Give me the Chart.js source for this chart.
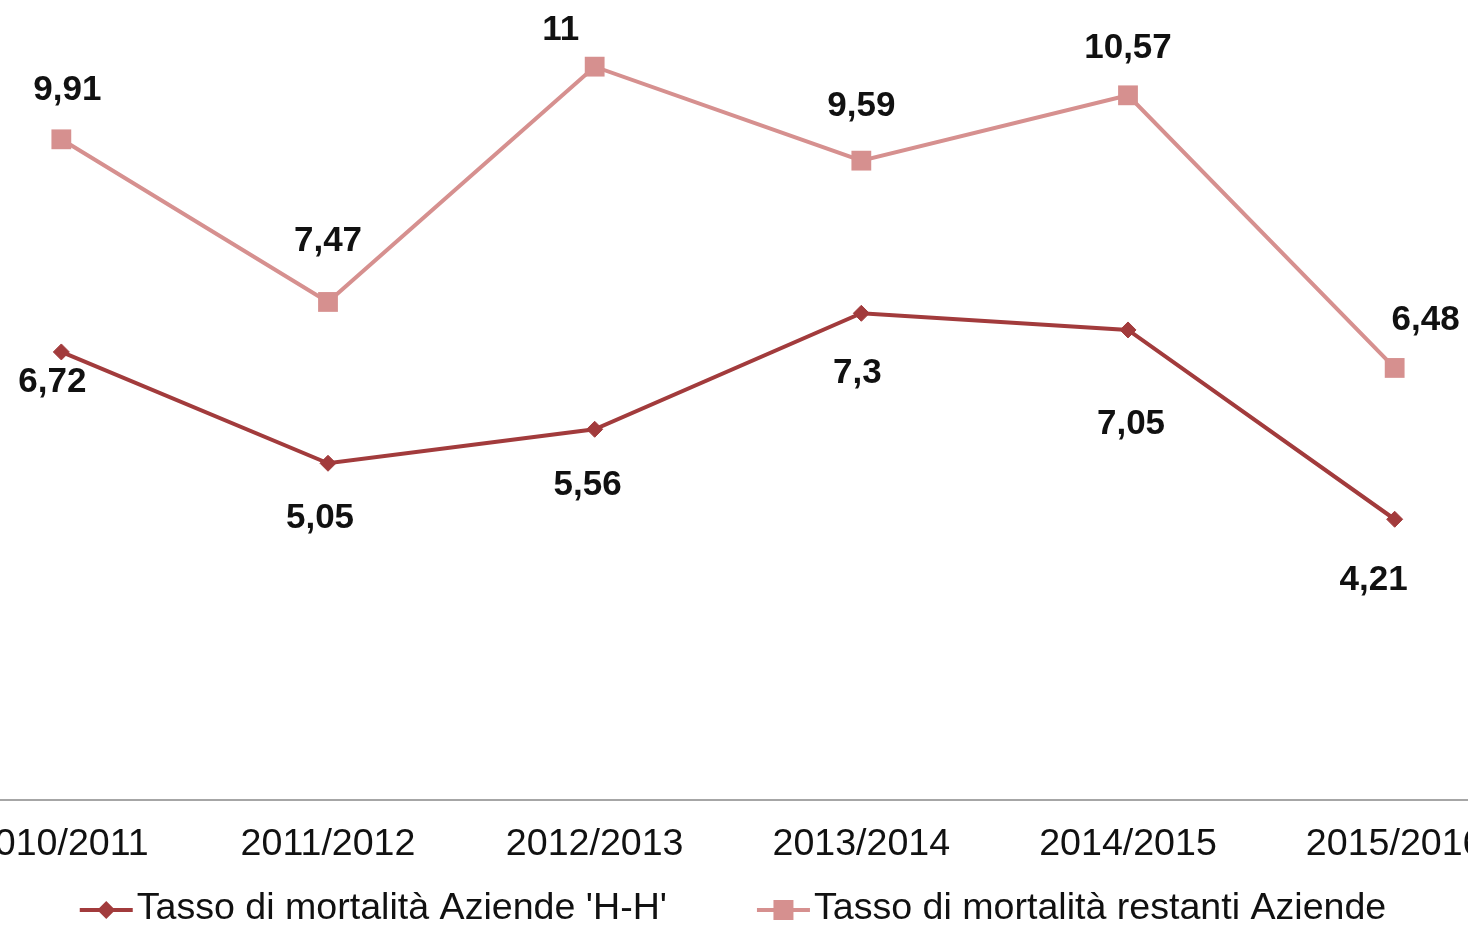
<!DOCTYPE html>
<html>
<head>
<meta charset="utf-8">
<title>Tasso di mortalità</title>
<script src="https://cdn.jsdelivr.net/npm/chart.js@4.4.1/dist/chart.umd.min.js"></script>
<style>
  html, body { margin: 0; padding: 0; background: #fff; overflow: hidden; width: 1468px; height: 925px; }
  #wrap { position: absolute; left: -72px; top: 0; width: 1600px; height: 925px; }
</style>
</head>
<body>
<div id="wrap"><canvas id="chart" width="1600" height="925"></canvas></div>
<script>
var seasons = ['2010/2011', '2011/2012', '2012/2013', '2013/2014', '2014/2015', '2015/2016'];
var tassoHH = [6.72, 5.05, 5.56, 7.3, 7.05, 4.21];
var tassoRestanti = [9.91, 7.47, 11, 9.59, 10.57, 6.48];

// where each value label sits relative to its point (px)
var nudgeHH = [[-9, 30], [-8, 55], [-7, 56], [-4, 60], [3, 94], [-21, 61]];
var nudgeRestanti = [[6, -49], [0, -61], [-34, -36], [0, -54], [0, -47], [31, -48]];

var FONT = '"Liberation Sans", Arial, sans-serif';
var darkRed = '#A23B3C';
var pink = '#D6908F';

function marker(ctx, style, x, y, r) {
    ctx.beginPath();
    if (style === 'rectRot') {
        ctx.moveTo(x - r, y);
        ctx.lineTo(x, y - r);
        ctx.lineTo(x + r, y);
        ctx.lineTo(x, y + r);
        ctx.closePath();
    } else {
        ctx.rect(x - r, y - r, 2 * r, 2 * r);
    }
    ctx.fill();
}

var valueLabels = {
    id: 'valueLabels',
    afterDatasetsDraw: function (chart) {
        var ctx = chart.ctx;
        ctx.save();
        ctx.font = 'bold 35px ' + FONT;
        ctx.fillStyle = '#111';
        ctx.textAlign = 'center';
        ctx.textBaseline = 'middle';
        chart.data.datasets.forEach(function (ds, di) {
            var meta = chart.getDatasetMeta(di);
            meta.data.forEach(function (pt, i) {
                var n = ds.nudge[i];
                var txt = String(ds.data[i]).replace('.', ',');
                ctx.fillText(txt, pt.x + n[0], pt.y + n[1]);
            });
        });
        ctx.restore();
    }
};

var bottomLegend = {
    id: 'bottomLegend',
    afterDraw: function (chart) {
        var ctx = chart.ctx;
        var lineLen = 53, gapText = 4, gapItems = 90;
        var y = 909;
        ctx.save();
        ctx.font = '37.6px ' + FONT;
        var items = chart.data.datasets.map(function (ds) {
            return { ds: ds, w: ctx.measureText(ds.label).width };
        });
        var total = gapItems * (items.length - 1);
        items.forEach(function (it) { total += lineLen + gapText + it.w; });
        var x = chart.width / 2 - total / 2 + 5;
        items.forEach(function (it) {
            var ds = it.ds;
            ctx.strokeStyle = ds.borderColor;
            ctx.lineWidth = 4;
            ctx.beginPath();
            ctx.moveTo(x, y + 1);
            ctx.lineTo(x + lineLen, y + 1);
            ctx.stroke();
            ctx.fillStyle = ds.pointBackgroundColor;
            marker(ctx, ds.pointStyle, x + lineLen / 2, y + 1, ds.pointStyle === 'rectRot' ? 9 : 10);
            ctx.fillStyle = '#111';
            ctx.textAlign = 'left';
            ctx.textBaseline = 'middle';
            ctx.fillText(ds.label, x + lineLen + gapText, y);
            x += lineLen + gapText + it.w + gapItems;
        });
        ctx.restore();
    }
};

new Chart(document.getElementById('chart'), {
    type: 'line',
    data: {
        labels: seasons,
        datasets: [
            {
                label: "Tasso di mortalità Aziende 'H-H'",
                data: tassoHH,
                nudge: nudgeHH,
                borderColor: darkRed,
                backgroundColor: darkRed,
                pointBackgroundColor: darkRed,
                pointBorderColor: darkRed,
                borderWidth: 4,
                pointStyle: 'rectRot',
                pointRadius: 8,
                pointBorderWidth: 1,
                tension: 0,
                fill: false
            },
            {
                label: 'Tasso di mortalità restanti Aziende',
                data: tassoRestanti,
                nudge: nudgeRestanti,
                borderColor: pink,
                backgroundColor: pink,
                pointBackgroundColor: pink,
                pointBorderColor: pink,
                borderWidth: 4,
                pointStyle: 'rect',
                pointRadius: 14,
                pointBorderWidth: 0,
                tension: 0,
                fill: false
            }
        ]
    },
    options: {
        responsive: false,
        animation: false,
        layout: { autoPadding: false, padding: { top: 0, left: 0, right: 0, bottom: 36 } },
        plugins: {
            legend: { display: false },
            tooltip: { enabled: false }
        },
        scales: {
            x: {
                offset: true,
                grid: { display: false, drawTicks: false },
                border: { display: true, color: '#A6A6A6', width: 2 },
                ticks: {
                    color: '#111',
                    padding: 22,
                    maxRotation: 0,
                    autoSkip: false,
                    font: { family: FONT, size: 37.6 }
                }
            },
            y: {
                display: false,
                min: 0,
                max: 12
            }
        }
    },
    plugins: [valueLabels, bottomLegend]
});
</script>
</body>
</html>
